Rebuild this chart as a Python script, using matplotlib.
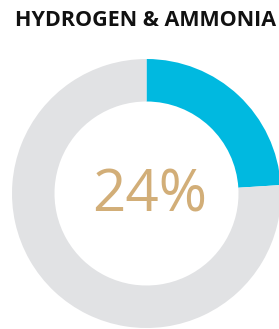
import matplotlib
matplotlib.use("Agg")
import matplotlib.pyplot as plt

title = "HYDROGEN & AMMONIA"
categories = ["Hydrogen & Ammonia", "Other"]
values = [24, 76]
colors = ["#00B9E0", "#E1E2E4"]

W, H = 279, 329
fig = plt.figure(figsize=(W / 100, H / 100), dpi=100)
ax = fig.add_axes([0, 0, 1, 1])

cx, cy, r = 146.5, H - 193.5, 134.5
ax.pie(values, colors=colors, startangle=90, counterclock=False,
       center=(cx, cy), radius=r, frame=True,
       wedgeprops=dict(width=42.5, linewidth=0))
ax.set_xlim(0, W)
ax.set_ylim(0, H)
ax.set_aspect("equal")
ax.axis("off")

ax.text(cx + 3, cy - 18, f"{values[0]}%", ha="center", va="baseline",
        fontsize=42, color="#D2AE78", family="Open Sans", fontweight="normal")
fig.text(146 / W, 1 - 21 / H, title, ha="center", va="center",
         fontsize=15.5, fontweight="bold", family="Open Sans", color="#111111")

fig.savefig("out.png", dpi=100, facecolor="white")
